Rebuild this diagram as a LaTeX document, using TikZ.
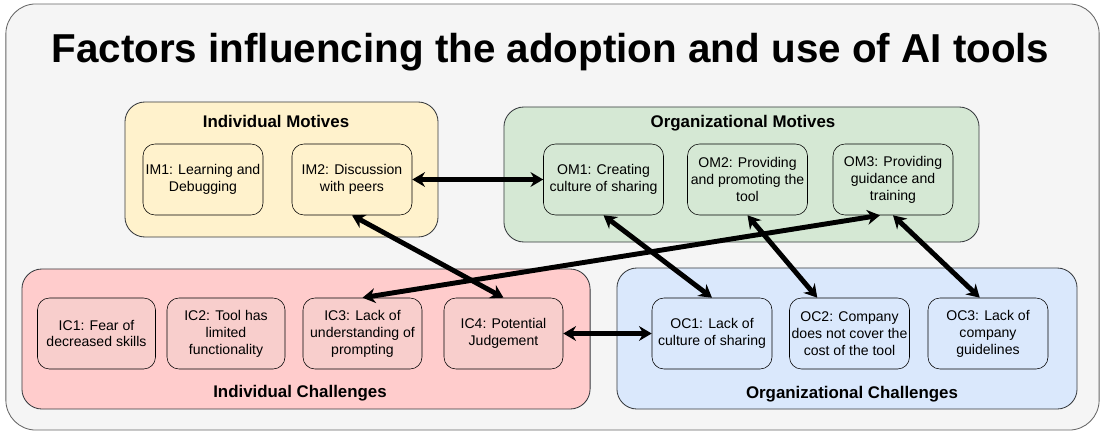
\documentclass[tikz,border=0pt]{standalone}
\usepackage{fontspec}
\setmainfont{Liberation Sans}
\usetikzlibrary{arrows.meta}

\definecolor{frameFill}{HTML}{F5F5F5}
\definecolor{frameLine}{HTML}{666666}
\definecolor{grpLine}{HTML}{36393D}
\definecolor{imFill}{HTML}{FFF2CC}
\definecolor{omFill}{HTML}{D5E8D4}
\definecolor{icFill}{HTML}{FFCCCC}
\definecolor{icInner}{HTML}{F8CECC}
\definecolor{ocFill}{HTML}{DAE8FC}

\tikzset{
	group/.style={draw=grpLine, rounded corners=0.5cm, line width=0.6pt},
	factor/.style={draw=black, rounded corners=0.3cm, minimum width=3cm, minimum height=1.775cm,
		align=center, inner sep=1pt, font=\fontsize{10}{12}\selectfont},
	grptitle/.style={anchor=base, font=\fontsize{12}{14}\selectfont\bfseries},
	link/.style={{Stealth[length=9pt,width=10.5pt]}-{Stealth[length=9pt,width=10.5pt]}, line width=3.5pt}
}

\begin{document}
\begin{tikzpicture}[x=0.025cm,y=-0.025cm]
	\useasboundingbox (0,0) rectangle (1106,433);
\node[draw=frameLine,fill=frameFill,line width=0.6pt,rounded corners=0.75cm,minimum width=27.325cm,minimum height=10.65cm] (frame) at (552.5,217) {};
\node[anchor=base,font=\fontsize{28.7}{34}\selectfont\bfseries] (title) at (550.5,63) {Factors influencing the adoption and use of AI tools};

% motives
\node[group,fill=imFill,minimum width=7.825cm,minimum height=3.375cm] (IMbox) at (281.5,169.5) {};
\node[grptitle] (IMtitle) at (276,128) {Individual Motives};
\node[factor,fill=imFill] (IM1) at (203,179.5) {IM1: Learning and\\Debugging};
\node[factor,fill=imFill] (IM2) at (352,179.5) {IM2: Discussion\\with peers};

\node[group,fill=omFill,minimum width=11.875cm,minimum height=3.375cm] (OMbox) at (741.5,174.5) {};
\node[grptitle] (OMtitle) at (743,128) {Organizational Motives};
\node[factor,fill=omFill] (OM1) at (603.5,179.5) {OM1: Creating\\culture of sharing};
\node[factor,fill=omFill] (OM2) at (747.5,179.5) {OM2: Providing\\and promoting the\\tool};
\node[factor,fill=omFill] (OM3) at (893,179.5) {OM3: Providing\\guidance and\\training};

% challenges
\node[group,fill=icFill,minimum width=14.2cm,minimum height=3.5cm] (ICbox) at (306,339) {};
\node[grptitle] (ICtitle) at (300,397) {Individual Challenges};
\node[factor,fill=icInner,minimum width=2.95cm] (IC1) at (96.5,333.5) {IC1: Fear of\\decreased skills};
\node[factor,fill=icInner,minimum width=2.95cm] (IC2) at (226,333.5) {IC2: Tool has\\limited\\functionality};
\node[factor,fill=icInner,minimum width=2.975cm] (IC3) at (362.5,333.5) {IC3: Lack of\\understanding of\\prompting};
\node[factor,fill=icInner,minimum width=2.975cm] (IC4) at (503.5,333.5) {IC4: Potential\\Judgement};

\node[group,fill=ocFill,minimum width=11.5cm,minimum height=3.525cm] (OCbox) at (847,338.5) {};
\node[grptitle] (OCtitle) at (852,398) {Organizational Challenges};
\node[factor,fill=ocFill] (OC1) at (712,333.5) {OC1: Lack of\\culture of sharing};
\node[factor,fill=ocFill] (OC2) at (849.5,333.5) {OC2: Company\\does not cover the\\cost of the tool};
\node[factor,fill=ocFill] (OC3) at (988,333.5) {OC3: Lack of\\company\\guidelines};

% links
\draw[link] (IM2.east) -- (OM1.west);
\draw[link] (IM2.south) -- (IC4.north);
\draw[link] (OM3.250) -- (IC3.north);
\draw[link] (OM1.south) -- (OC1.north);
\draw[link] (OM2.south) -- (OC2.132);
\draw[link] (OM3.south) -- (OC3.103);
\draw[link] (IC4.east) -- (OC1.west);

\end{tikzpicture}
\end{document}
